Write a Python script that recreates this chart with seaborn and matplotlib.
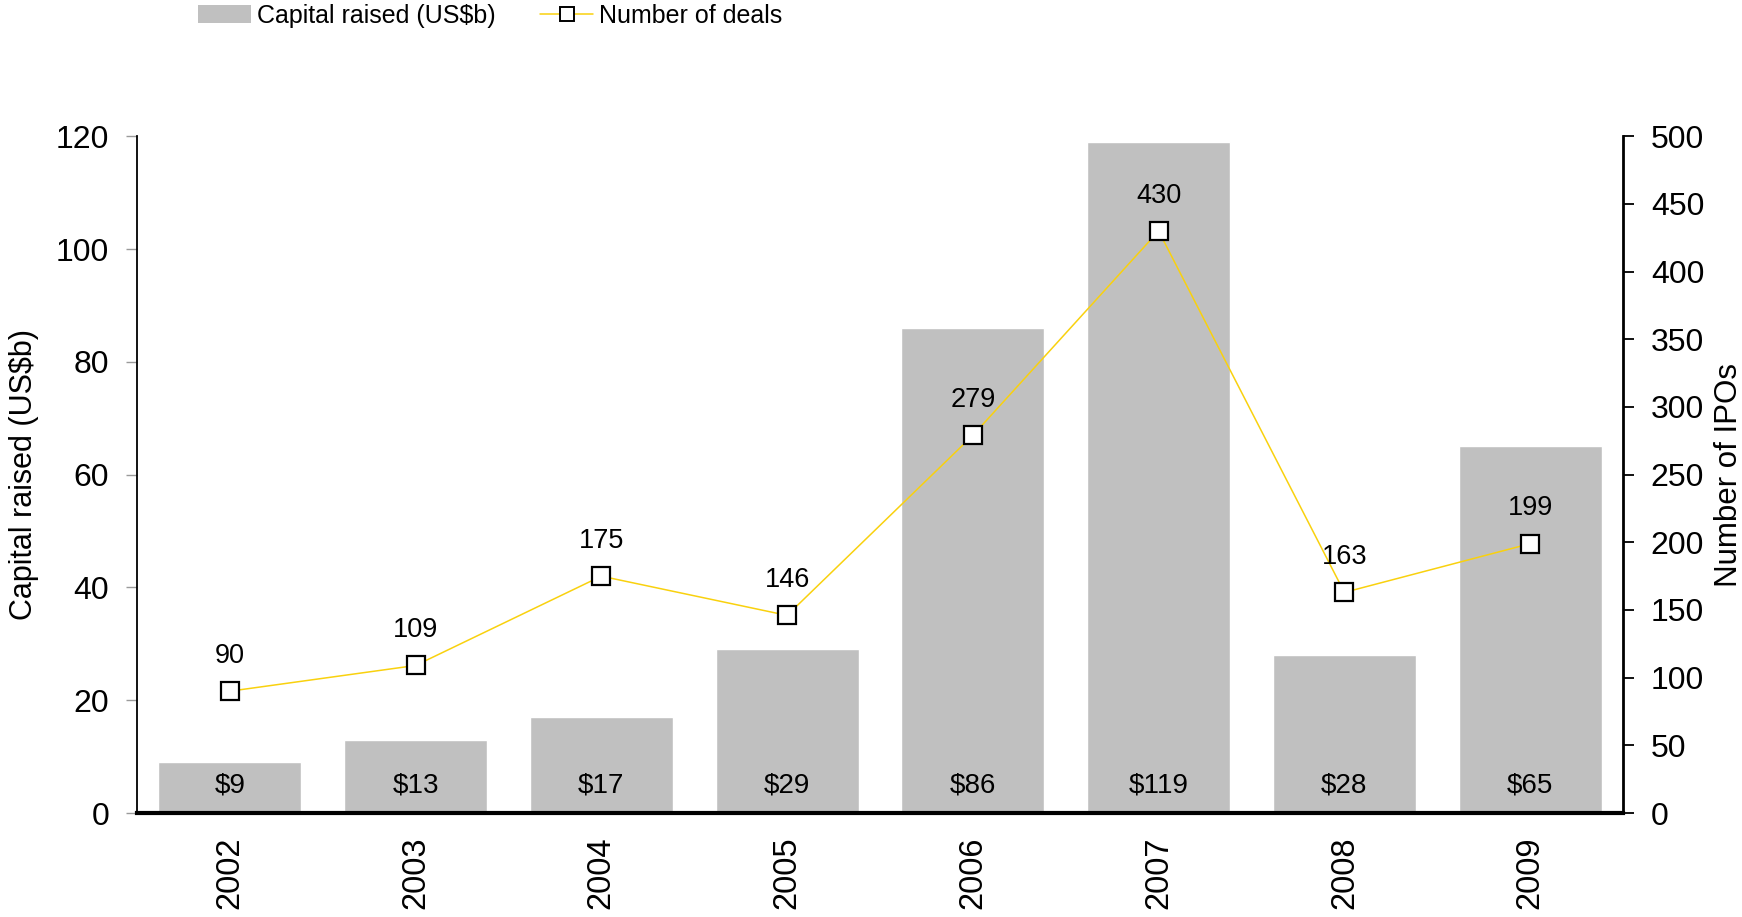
import numpy as np
import pandas as pd
import matplotlib
matplotlib.use("Agg")
import matplotlib.pyplot as plt
from matplotlib.patches import Patch
from matplotlib.lines import Line2D
import seaborn as sns

# Data
years = ["2002", "2003", "2004", "2005", "2006", "2007", "2008", "2009"]
capital_raised = [9, 13, 17, 29, 86, 119, 28, 65]
number_of_deals = [90, 109, 175, 146, 279, 430, 163, 199]
capital_ticks = [0, 20, 40, 60, 80, 100, 120]
deal_ticks = [0, 50, 100, 150, 200, 250, 300, 350, 400, 450, 500]

sns.set_theme(style="white")
plt.rcParams["font.family"] = ["Liberation Sans", "DejaVu Sans"]
plt.rcParams.update({
    "text.color": "black",
    "axes.labelcolor": "black",
    "xtick.labelcolor": "black",
    "ytick.labelcolor": "black",
})

BAR_COLOR = "#C0C0C0"
LINE_COLOR = "#F9D10E"

df = pd.DataFrame({"year": years, "capital": capital_raised, "deals": number_of_deals})

fig = plt.figure(figsize=(17.42, 9.17), dpi=100)
ax = fig.add_axes([0.0786, 0.1134, 0.8531, 0.7380])

sns.barplot(data=df, x="year", y="capital", color=BAR_COLOR, width=0.77,
            saturation=1, ax=ax)
ax.set_xlim(-0.5, len(years) - 0.5)
ax.set_ylim(0, 120)
ax.set_yticks(capital_ticks)
ax.set_ylabel("Capital raised (US$b)", fontsize=22, labelpad=12)
ax.set_xlabel("")
ax.tick_params(axis="y", which="major", direction="out", length=8, width=1,
               color="#9a9a9a", labelsize=23, pad=12, left=True)
ax.tick_params(axis="x", length=0, labelsize=23.5, labelrotation=90, pad=17)
for s in ["top", "right"]:
    ax.spines[s].set_visible(False)
ax.spines["left"].set_color("black")
ax.spines["left"].set_linewidth(1.3)
ax.spines["bottom"].set_color("black")
ax.spines["bottom"].set_linewidth(3)

# Bar value labels near the base
for i, v in enumerate(capital_raised):
    ax.annotate(f"${v}", xy=(i, 0), xytext=(0, 19.5), textcoords="offset points",
                ha="center", va="center", fontsize=20, color="black")

# Number of deals on the secondary axis
ax2 = ax.twinx()
sns.lineplot(x=np.arange(len(years)), y=number_of_deals, ax=ax2, color=LINE_COLOR,
             linewidth=1.1, marker="s", markersize=12.5, markerfacecolor="white",
             markeredgecolor="black", markeredgewidth=1.6)
ax2.set_ylim(0, 500)
ax2.set_yticks(deal_ticks)
ax2.set_ylabel("Number of IPOs", fontsize=22.5, labelpad=7)
ax2.tick_params(axis="y", direction="out", length=8, width=1.3, color="black",
                labelsize=23, pad=12, right=True)
for s in ["top", "left", "bottom"]:
    ax2.spines[s].set_visible(False)
ax2.spines["right"].set_color("black")
ax2.spines["right"].set_linewidth(2)
ax2.set_xlim(-0.5, len(years) - 0.5)

for i, v in enumerate(number_of_deals):
    ax2.annotate(str(v), xy=(i, v), xytext=(0, 25.5), textcoords="offset points",
                 ha="center", va="center", fontsize=19.5, color="black")

handles = [
    Patch(facecolor=BAR_COLOR, edgecolor="none", label="Capital raised (US$b)"),
    Line2D([], [], color=LINE_COLOR, linewidth=1.1, marker="s", markersize=10,
           markerfacecolor="white", markeredgecolor="black", markeredgewidth=1.4,
           label="Number of deals"),
]
fig.legend(handles=handles, loc="center left", bbox_to_anchor=(0.1137, 0.9826),
           ncol=2, frameon=False, fontsize=18, handlelength=2.1, handleheight=0.7,
           handletextpad=0.25, columnspacing=1.8, borderpad=0, borderaxespad=0)

fig.savefig("out.png", dpi=100)
